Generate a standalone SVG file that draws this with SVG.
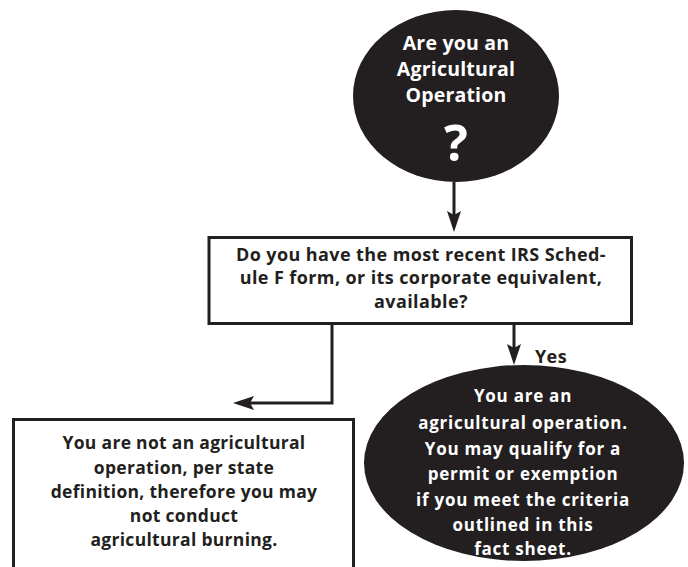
<svg xmlns="http://www.w3.org/2000/svg" width="688" height="567" viewBox="0 0 688 567">
<style>
.bg{fill:#ffffff}
.dark{fill:#231f20}
.box{fill:#ffffff;stroke:#231f20;stroke-width:3}
.conn{fill:none;stroke:#231f20;stroke-width:3}
text{font-family:"Open Sans","Liberation Sans",sans-serif;font-weight:700;text-anchor:middle}
.w{fill:#ffffff}
.k{fill:#231f20}
.t1{font-size:19.5px;letter-spacing:0.2px}
.t2{font-size:18px;letter-spacing:0.4px}
.t3{font-size:17.5px;letter-spacing:0.3px}
.t4{font-size:17px;letter-spacing:0.75px}
.q{font-size:50px}
</style>
<defs>
<marker id="ah" markerUnits="userSpaceOnUse" markerWidth="22" markerHeight="14" viewBox="0 0 21 14" refX="4" refY="7" orient="auto">
<path d="M0,0 L21,7 L0,14 L4,7 Z" fill="#231f20"/>
</marker>
</defs>
<rect class="bg" x="0" y="0" width="688" height="567"/>
<g id="connectors">
<line class="conn" x1="454" y1="182" x2="454" y2="215" marker-end="url(#ah)"/>
<line class="conn" x1="514" y1="323" x2="514" y2="348" marker-end="url(#ah)"/>
<path class="conn" d="M332,323 V403 H250" marker-end="url(#ah)"/>
<text class="k t2" x="551" y="363">Yes</text>
</g>
<g id="start">
<ellipse class="dark" cx="456" cy="96" rx="103" ry="86"/>
<text class="w t1" x="456" y="50">Are you an</text>
<text class="w t1" x="456" y="76">Agricultural</text>
<text class="w t1" x="456" y="102">Operation</text>
<text class="w q" x="456" y="161">?</text>
</g>
<g id="question">
<rect class="box" x="209" y="237.5" width="422.5" height="86"/>
<text class="k t2" x="421" y="261">Do you have the most recent IRS Sched-</text>
<text class="k t2" x="421" y="284">ule F form, or its corporate equivalent,</text>
<text class="k t2" x="421" y="308">available?</text>
</g>
<g id="no">
<rect class="box" x="13.5" y="419.5" width="340" height="170"/>
<text class="k t3" x="184" y="449">You are not an agricultural</text>
<text class="k t3" x="184" y="474">operation, per state</text>
<text class="k t3" x="184" y="498">definition, therefore you may</text>
<text class="k t3" x="184" y="522">not conduct</text>
<text class="k t3" x="184" y="546">agricultural burning.</text>
</g>
<g id="yes">
<ellipse class="dark" cx="524" cy="463" rx="160" ry="98"/>
<text class="w t4" x="523" y="402">You are an</text>
<text class="w t4" x="523" y="429">agricultural operation.</text>
<text class="w t4" x="523" y="455">You may qualify for a</text>
<text class="w t4" x="523" y="480">permit or exemption</text>
<text class="w t4" x="523" y="506">if you meet the criteria</text>
<text class="w t4" x="523" y="531">outlined in this</text>
<text class="w t4" x="523" y="555">fact sheet.</text>
</g>
</svg>
